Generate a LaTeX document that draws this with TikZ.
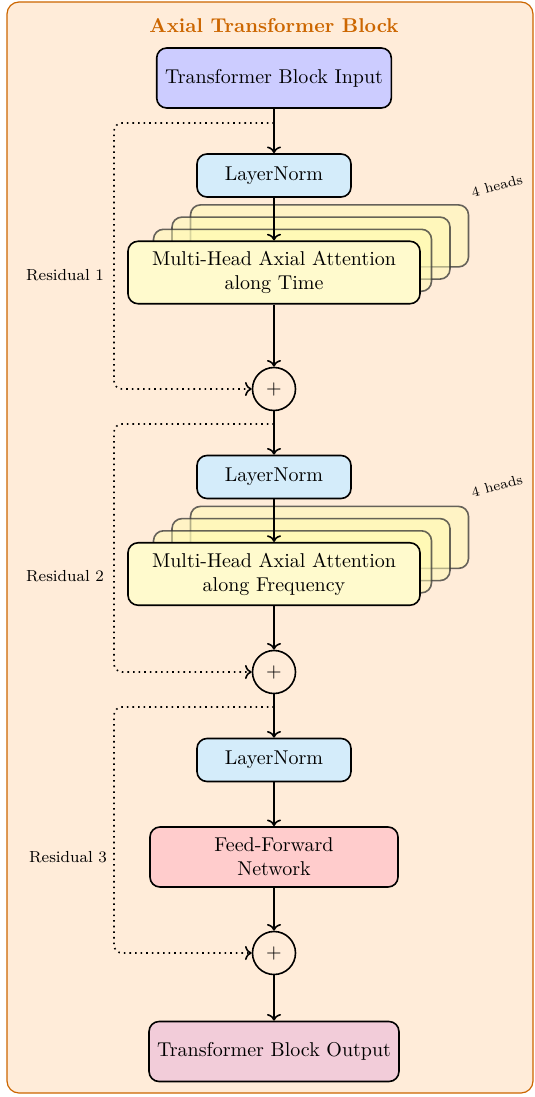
\documentclass[tikz,border=0pt]{standalone}
\usepackage{tikz}
\usetikzlibrary{positioning, calc, arrows.meta}
\usepackage{xcolor}
\definecolor{normblue}{RGB}{212,236,250}
\definecolor{attnfill}{RGB}{255,250,205}
\definecolor{frameorange}{RGB}{204,102,0}

\begin{document}
\begin{tikzpicture}[
    x=0.5pt, y=-0.5pt,
    blockbox/.style={draw, thick, rounded corners=5pt, align=center,
        inner sep=5pt},
    inputbox/.style={blockbox, fill=blue!20, inner xsep=4.2pt,
        minimum height=30pt},
    normbox/.style={blockbox, fill=normblue, minimum width=77pt,
        minimum height=21.5pt},
    attnbox/.style={blockbox, fill=attnfill, text width=136pt,
        minimum height=30.5pt},
    headcopy/.style={draw=black!80, draw opacity=0.75, thick,
        rounded corners=5pt, fill=yellow!30, fill opacity=0.5,
        minimum width=139pt, minimum height=31pt},
    ffnbox/.style={blockbox, fill=red!20, text width=114pt,
        minimum height=30pt},
    outbox/.style={blockbox, fill=purple!20, inner xsep=4pt,
        minimum height=30pt},
    addnode/.style={circle, draw, thick, minimum size=21.5pt, inner sep=0pt},
    flow/.style={->, thick},
    resid/.style={->, thick, dotted, rounded corners=4pt},
    reslabel/.style={font=\footnotesize, anchor=east},
    headlabel/.style={font=\scriptsize, rotate=15}]

    \useasboundingbox (0,0) rectangle (535,1097);
    \draw[frameorange, semithick, fill=orange!15, rounded corners=6pt]
        (7,2) rectangle (533,1093);
    \node[font=\bfseries, text=frameorange] (title) at (274,26)
        {Axial Transformer Block};

    \node[inputbox] (in) at (274,78) {Transformer Block Input};
    \coordinate (br1) at (274,123);
    \node[normbox] (ln1) at (274,175.5) {LayerNorm};

    % stacked heads, back to front
    \coordinate (a1) at (274,272.5);
    \foreach \i in {3,2,1}
        \node[headcopy] (a1-\i) at ([shift={(\i*18.5,-\i*12.2)}]a1) {};
    \node[attnbox] (att1) at (a1) {Multi-Head Axial Attention\\along Time};
    \node[headlabel] (h1) at (497,186) {4 heads};
    \node[addnode] (plus1) at (274,389) {$+$};

    \coordinate (br2) at (274,424);
    \node[normbox] (ln2) at (274,477) {LayerNorm};
    \coordinate (a2) at (274,574);
    \foreach \i in {3,2,1}
        \node[headcopy] (a2-\i) at ([shift={(\i*18.5,-\i*12.2)}]a2) {};
    \node[attnbox] (att2) at (a2) {Multi-Head Axial Attention\\along Frequency};
    \node[headlabel] (h2) at (497,486) {4 heads};
    \node[addnode] (plus2) at (274,672) {$+$};

    \coordinate (br3) at (274,707);
    \node[normbox] (ln3) at (274,760) {LayerNorm};
    \node[ffnbox] (ffn) at (274,857) {Feed-Forward\\Network};
    \node[addnode] (plus3) at (274,953) {$+$};
    \node[outbox] (out) at (274,1051.5) {Transformer Block Output};

    % main path
    \draw[flow] (in) -- (ln1);
    \draw[flow] (ln1) -- (att1);
    \draw[flow] (att1) -- (plus1);
    \draw[flow] (plus1) -- (ln2);
    \draw[flow] (ln2) -- (att2);
    \draw[flow] (att2) -- (plus2);
    \draw[flow] (plus2) -- (ln3);
    \draw[flow] (ln3) -- (ffn);
    \draw[flow] (ffn) -- (plus3);
    \draw[flow] (plus3) -- (out);

    % residual connections
    \draw[resid] (br1) -- (114,123) |- (plus1.west);
    \draw[resid] (br2) -- (114,424) |- (plus2.west);
    \draw[resid] (br3) -- (114,707) |- (plus3.west);
    \node[reslabel] (res1) at (111,275) {Residual 1};
    \node[reslabel] (res2) at (111,576) {Residual 2};
    \node[reslabel] (res3) at (114,857) {Residual 3};

\end{tikzpicture}
\end{document}
